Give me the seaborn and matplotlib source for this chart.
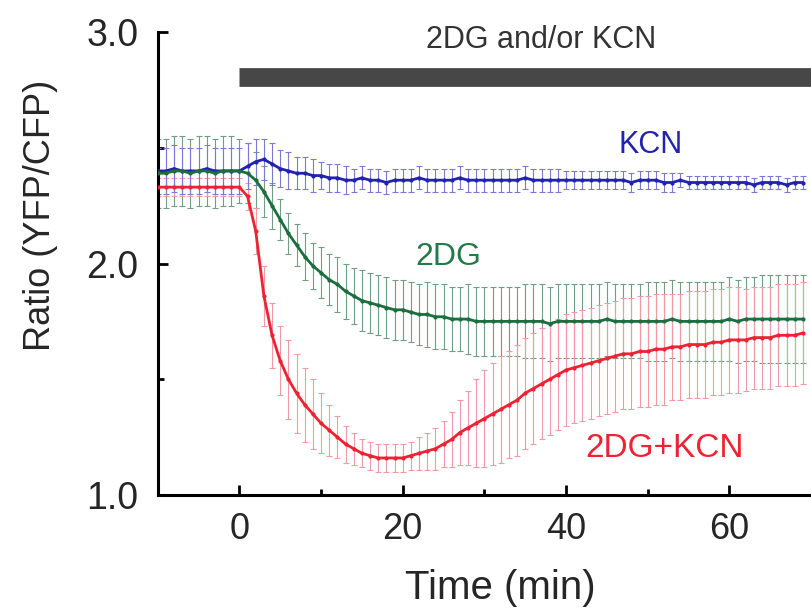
import numpy as np
import pandas as pd
import matplotlib
matplotlib.use("Agg")
import matplotlib.pyplot as plt
import seaborn as sns

# -----------------------------
# Data
# -----------------------------
time_min = np.arange(-10, 70)

kcn_mean = [
    2.40, 2.40, 2.41, 2.40, 2.40, 2.40, 2.41, 2.40, 2.40, 2.40,
    2.40, 2.42, 2.44, 2.45, 2.43, 2.41, 2.40, 2.39, 2.39, 2.38,
    2.38, 2.37, 2.37, 2.36, 2.36, 2.37, 2.36, 2.36, 2.35, 2.36,
    2.36, 2.36, 2.37, 2.36, 2.36, 2.36, 2.36, 2.37, 2.36, 2.36,
    2.36, 2.36, 2.36, 2.36, 2.36, 2.37, 2.36, 2.36, 2.36, 2.36,
    2.36, 2.36, 2.36, 2.36, 2.36, 2.36, 2.36, 2.36, 2.35, 2.36,
    2.36, 2.36, 2.35, 2.35, 2.36, 2.35, 2.35, 2.35, 2.35, 2.35,
    2.35, 2.35, 2.35, 2.34, 2.35, 2.35, 2.35, 2.34, 2.35, 2.35,
]
kcn_err = [
    0.10, 0.10, 0.10, 0.10, 0.10, 0.10, 0.10, 0.10, 0.10, 0.10,
    0.10, 0.10, 0.10, 0.09, 0.09, 0.08, 0.08, 0.07, 0.07, 0.07,
    0.06, 0.06, 0.06, 0.06, 0.05, 0.05, 0.05, 0.05, 0.05, 0.05,
    0.05, 0.05, 0.05, 0.05, 0.05, 0.05, 0.05, 0.05, 0.05, 0.05,
    0.05, 0.05, 0.05, 0.05, 0.05, 0.05, 0.05, 0.05, 0.05, 0.05,
    0.04, 0.04, 0.04, 0.04, 0.04, 0.04, 0.04, 0.04, 0.04, 0.04,
    0.04, 0.04, 0.04, 0.04, 0.03, 0.03, 0.03, 0.03, 0.03, 0.03,
    0.03, 0.03, 0.03, 0.03, 0.03, 0.03, 0.03, 0.03, 0.03, 0.03,
]

dg_mean = [
    2.39, 2.39, 2.40, 2.40, 2.39, 2.40, 2.40, 2.39, 2.40, 2.40,
    2.40, 2.39, 2.36, 2.31, 2.25, 2.19, 2.13, 2.08, 2.03, 1.99,
    1.96, 1.93, 1.91, 1.88, 1.86, 1.84, 1.83, 1.82, 1.81, 1.80,
    1.80, 1.79, 1.78, 1.78, 1.77, 1.77, 1.76, 1.76, 1.76, 1.75,
    1.75, 1.75, 1.75, 1.75, 1.75, 1.75, 1.75, 1.75, 1.74, 1.75,
    1.75, 1.75, 1.75, 1.75, 1.75, 1.76, 1.75, 1.75, 1.75, 1.75,
    1.75, 1.75, 1.75, 1.76, 1.75, 1.75, 1.75, 1.75, 1.75, 1.75,
    1.76, 1.75, 1.76, 1.76, 1.76, 1.76, 1.76, 1.76, 1.76, 1.76,
]
dg_err = [
    0.15, 0.15, 0.15, 0.15, 0.15, 0.15, 0.15, 0.15, 0.15, 0.15,
    0.14, 0.13, 0.12, 0.11, 0.10, 0.09, 0.09, 0.09, 0.10, 0.10,
    0.11, 0.11, 0.12, 0.12, 0.12, 0.13, 0.13, 0.13, 0.13, 0.13,
    0.13, 0.13, 0.13, 0.14, 0.14, 0.14, 0.14, 0.14, 0.15, 0.15,
    0.15, 0.15, 0.15, 0.15, 0.15, 0.16, 0.16, 0.16, 0.16, 0.16,
    0.16, 0.16, 0.16, 0.16, 0.16, 0.16, 0.16, 0.16, 0.16, 0.16,
    0.17, 0.17, 0.17, 0.17, 0.17, 0.17, 0.17, 0.17, 0.17, 0.17,
    0.18, 0.18, 0.18, 0.18, 0.19, 0.19, 0.19, 0.19, 0.19, 0.19,
]

both_mean = [
    2.33, 2.33, 2.33, 2.33, 2.33, 2.33, 2.33, 2.33, 2.33, 2.33,
    2.33, 2.29, 2.14, 1.86, 1.69, 1.58, 1.50, 1.44, 1.39, 1.35,
    1.31, 1.28, 1.25, 1.22, 1.20, 1.18, 1.17, 1.16, 1.16, 1.16,
    1.16, 1.17, 1.18, 1.19, 1.20, 1.22, 1.24, 1.27, 1.29, 1.31,
    1.33, 1.35, 1.37, 1.39, 1.41, 1.44, 1.46, 1.48, 1.50, 1.52,
    1.54, 1.55, 1.56, 1.57, 1.58, 1.59, 1.60, 1.61, 1.61, 1.62,
    1.62, 1.63, 1.63, 1.64, 1.64, 1.65, 1.65, 1.65, 1.66, 1.66,
    1.67, 1.67, 1.67, 1.68, 1.68, 1.68, 1.69, 1.69, 1.69, 1.70,
]
both_err = [
    0.04, 0.04, 0.04, 0.04, 0.04, 0.04, 0.04, 0.04, 0.04, 0.04,
    0.04, 0.06, 0.10, 0.13, 0.14, 0.15, 0.17, 0.17, 0.16, 0.15,
    0.13, 0.11, 0.09, 0.08, 0.07, 0.06, 0.06, 0.06, 0.06, 0.06,
    0.06, 0.06, 0.07, 0.08, 0.09, 0.10, 0.12, 0.14, 0.16, 0.19,
    0.21, 0.22, 0.23, 0.23, 0.24, 0.24, 0.24, 0.24, 0.24, 0.24,
    0.24, 0.24, 0.24, 0.24, 0.24, 0.24, 0.24, 0.24, 0.24, 0.24,
    0.24, 0.24, 0.24, 0.23, 0.23, 0.23, 0.23, 0.23, 0.23, 0.23,
    0.23, 0.23, 0.22, 0.22, 0.22, 0.22, 0.22, 0.22, 0.22, 0.22,
]

conditions = ["KCN", "2DG", "2DG+KCN"]
line_colors = {"KCN": "#2222b0", "2DG": "#1b6e3e", "2DG+KCN": "#ee2233"}
err_colors = {"KCN": "#7a7ad6", "2DG": "#6f9f80", "2DG+KCN": "#f29aa4"}

df = pd.concat([
    pd.DataFrame({"time": time_min, "ratio": kcn_mean, "err": kcn_err, "condition": "KCN"}),
    pd.DataFrame({"time": time_min, "ratio": dg_mean, "err": dg_err, "condition": "2DG"}),
    pd.DataFrame({"time": time_min, "ratio": both_mean, "err": both_err, "condition": "2DG+KCN"}),
], ignore_index=True)

# -----------------------------
# Plot
# -----------------------------
sns.set_style("ticks")
plt.rcParams["font.family"] = ["Liberation Sans", "DejaVu Sans"]

fig = plt.figure(figsize=(8.11, 6.15), dpi=100)
ax = fig.add_axes([0.1945, 0.1951, 0.8055, 0.7528])

for cond in ["2DG", "2DG+KCN", "KCN"]:
    sub = df[df["condition"] == cond]
    ax.errorbar(sub["time"], sub["ratio"], yerr=sub["err"], fmt="none",
                ecolor=err_colors[cond], elinewidth=0.8, capsize=2.2,
                capthick=0.8, zorder=2)

sns.lineplot(data=df, x="time", y="ratio", hue="condition", hue_order=conditions,
             palette=line_colors, marker="o", markersize=3, markeredgewidth=0,
             linewidth=2, legend=False, errorbar=None, ax=ax, zorder=3)

# treatment bar
ax.hlines(2.806, 0, 75, colors="#474747", linewidth=13.5, zorder=4)
ax.text(37, 2.965, "2DG and/or KCN", fontsize=22, ha="center", va="center", color="#333333")

ax.text(50.4, 2.51, "KCN", fontsize=22, ha="center", va="center", color=line_colors["KCN"])
ax.text(25.6, 2.03, "2DG", fontsize=23, ha="center", va="center", color="#237a48")
ax.text(52.1, 1.20, "2DG+KCN", fontsize=24, ha="center", va="center", color=line_colors["2DG+KCN"])

ax.set_xlim(-10, 70)
ax.set_ylim(1.0, 3.0)
ax.set_xticks([0, 20, 40, 60])
ax.set_xticks([10, 30, 50], minor=True)
ax.set_yticks([1.0, 2.0, 3.0])
ax.set_yticks([1.5, 2.5], minor=True)
ax.set_yticklabels(["1.0", "2.0", "3.0"])

ax.tick_params(which="both", direction="in", width=2, color="black")
ax.tick_params(which="major", length=7)
ax.tick_params(which="minor", length=4)
ax.tick_params(axis="x", which="major", labelsize=26, pad=12)
ax.tick_params(axis="y", which="major", labelsize=27, pad=14)

for side in ["top", "right"]:
    ax.spines[side].set_visible(False)
for side in ["left", "bottom"]:
    ax.spines[side].set_linewidth(2.2)
    ax.spines[side].set_color("black")

ax.set_xlabel("Time (min)", fontsize=29)
ax.set_ylabel("Ratio (YFP/CFP)", fontsize=26)
ax.xaxis.set_label_coords(0.524, -0.16)
ax.yaxis.set_label_coords(-0.152, 0.603)

fig.savefig("out.png", dpi=100)
